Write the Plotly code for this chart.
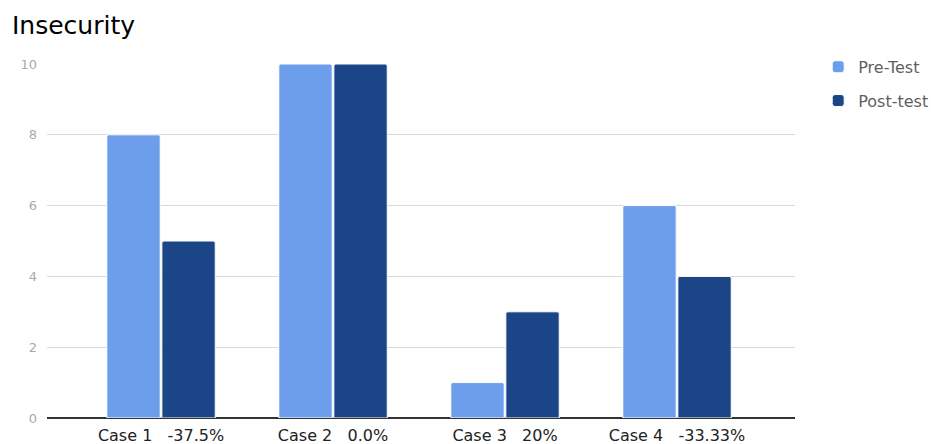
import plotly.graph_objects as go

cases = ["Case 1", "Case 2", "Case 3", "Case 4"]
change_labels = ["-37.5%", "0.0%", "20%", "-33.33%"]
pre_test = [8, 10, 1, 6]
post_test = [5, 10, 3, 4]

NBSP = "\u00a0"
tick_text = [f"{c}{NBSP * 3}{p}" for c, p in zip(cases, change_labels)]
x_pos = list(range(len(cases)))

fig = go.Figure()
fig.add_trace(go.Bar(
    x=x_pos, y=pre_test, name="Pre-Test", legendgroup="pre",
    marker=dict(color="#6d9eeb", line=dict(color="white", width=1)),
))
fig.add_trace(go.Bar(
    x=x_pos, y=post_test, name="Post-test", legendgroup="post",
    marker=dict(color="#1c4587", line=dict(color="white", width=1)),
))

fig.update_layout(
    width=933, height=444,
    margin=dict(l=47, r=138, t=64, b=26, autoexpand=False),
    paper_bgcolor="white", plot_bgcolor="white",
    font=dict(family="DejaVu Sans, Verdana, sans-serif"),
    title=dict(text="Insecurity", x=12 / 933, xref="container", xanchor="left",
               y=1 - 25 / 444, yref="container", yanchor="middle",
               font=dict(size=25, color="#000000")),
    barmode="group", bargap=0.36, bargroupgap=0.03,
    barcornerradius=2,
    showlegend=True,
    legend=dict(x=1.031, y=1.04, xanchor="left", yanchor="top",
                font=dict(size=16, color="#5f5f5f"), tracegroupgap=10,
                bgcolor="rgba(0,0,0,0)"),
)
fig.update_xaxes(
    tickmode="array", tickvals=x_pos, ticktext=tick_text,
    range=[-0.663, 3.686], showgrid=False, ticks="",
    tickfont=dict(size=16, color="#222222"), zeroline=False,
    showline=False, automargin=False, ticklabelstandoff=6,
)
fig.update_yaxes(
    range=[0, 10], tickvals=[0, 2, 4, 6, 8, 10], showgrid=True,
    gridcolor="#d9d9d9", gridwidth=1, zeroline=True, zerolinecolor="#333333",
    zerolinewidth=1.5, tickfont=dict(size=13, color="#aaaaaa"), ticks="",
    ticklabelstandoff=9, automargin=False,
)
fig.write_html("out.html")
